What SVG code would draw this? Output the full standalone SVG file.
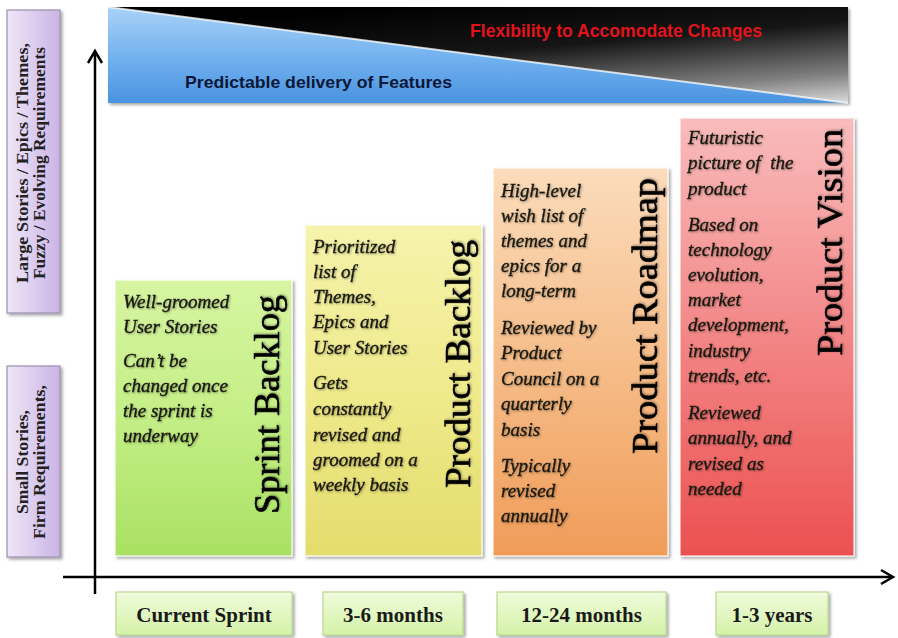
<svg xmlns="http://www.w3.org/2000/svg" width="898" height="638" viewBox="0 0 898 638">
  <defs>
    <linearGradient id="gBlue" x1="0" y1="0" x2="0" y2="1">
      <stop offset="0" stop-color="#a9d2f6"/>
      <stop offset="0.55" stop-color="#70b0ee"/>
      <stop offset="1" stop-color="#4a93e0"/>
    </linearGradient>
    <linearGradient id="gDark" x1="0.35" y1="0" x2="1" y2="1">
      <stop offset="0" stop-color="#000000"/>
      <stop offset="0.4" stop-color="#151515"/>
      <stop offset="0.78" stop-color="#808080"/>
      <stop offset="1" stop-color="#dcdcdc"/>
    </linearGradient>
    <linearGradient id="gGreen" x1="0" y1="0" x2="0" y2="1">
      <stop offset="0" stop-color="#d7f5a2"/>
      <stop offset="0.5" stop-color="#c4ee86"/>
      <stop offset="1" stop-color="#a9e163"/>
    </linearGradient>
    <linearGradient id="gYellow" x1="0" y1="0" x2="0" y2="1">
      <stop offset="0" stop-color="#f6f3ac"/>
      <stop offset="0.5" stop-color="#efea8c"/>
      <stop offset="1" stop-color="#e4dc6c"/>
    </linearGradient>
    <linearGradient id="gOrange" x1="0" y1="0" x2="0" y2="1">
      <stop offset="0" stop-color="#fbdcbc"/>
      <stop offset="0.5" stop-color="#f6bd8a"/>
      <stop offset="1" stop-color="#f09c58"/>
    </linearGradient>
    <linearGradient id="gRed" x1="0" y1="0" x2="0" y2="1">
      <stop offset="0" stop-color="#f9bcbc"/>
      <stop offset="0.5" stop-color="#f38686"/>
      <stop offset="1" stop-color="#ec5050"/>
    </linearGradient>
    <linearGradient id="gPurple" x1="0" y1="0" x2="1" y2="0">
      <stop offset="0" stop-color="#eee6f7"/>
      <stop offset="1" stop-color="#cbb4e6"/>
    </linearGradient>
    <linearGradient id="gTag" x1="0" y1="0" x2="0" y2="1">
      <stop offset="0" stop-color="#f0fbdc"/>
      <stop offset="1" stop-color="#d4f2a8"/>
    </linearGradient>
    <filter id="shadow" x="-10%" y="-10%" width="125%" height="125%">
      <feDropShadow dx="2" dy="2" stdDeviation="1.6" flood-color="#000" flood-opacity="0.35"/>
    </filter>
    <filter id="tshadow" x="-10%" y="-10%" width="125%" height="125%">
      <feDropShadow dx="1" dy="1" stdDeviation="0.8" flood-color="#000" flood-opacity="0.35"/>
    </filter>
  </defs>
  <style>
    .card { stroke: #ffffff; stroke-opacity: 0.7; stroke-width: 1.5; filter: url(#shadow); }
    .body { font-family: "Liberation Serif", "DejaVu Serif", serif; font-style: italic; font-size: 19px; fill: #1a1a10; stroke: #1a1a10; stroke-width: 0.35; filter: url(#tshadow); }
    .title { font-family: "Liberation Serif", "DejaVu Serif", serif; font-size: 35px; fill: #000; stroke: #000; stroke-width: 0.6; filter: url(#tshadow); }
    .side { font-family: "Liberation Serif", "DejaVu Serif", serif; font-weight: bold; font-size: 16px; fill: #222; text-anchor: middle; }
    .sidebox { fill: url(#gPurple); stroke: #9c8fae; stroke-width: 1.2; filter: url(#shadow); }
    .tag { fill: url(#gTag); stroke: #b9d88f; stroke-width: 1.2; filter: url(#shadow); }
    .tagtext { font-family: "Liberation Serif", "DejaVu Serif", serif; font-weight: bold; font-size: 21px; fill: #1a1a1a; text-anchor: middle; }
    .axis { stroke: #000; stroke-width: 2.5; fill: none; }
  </style>

  <!-- top banner: predictability vs flexibility wedge -->
  <g id="banner">
    <rect x="108" y="7" width="740" height="96" fill="#9a9a9a" filter="url(#shadow)"/>
    <polygon points="108,7 848,7 848,103" fill="url(#gDark)"/>
    <polygon points="108,7 848,103 108,103" fill="url(#gBlue)"/>
    <line x1="108" y1="7" x2="848" y2="103" stroke="#ffffff" stroke-opacity="0.75" stroke-width="2"/>
    <text x="470" y="37" textLength="292" lengthAdjust="spacingAndGlyphs" font-family="'Liberation Sans', Arial, sans-serif" font-weight="bold" font-size="19" fill="#e0141a">Flexibility to Accomodate Changes</text>
    <text x="185" y="88" textLength="267" lengthAdjust="spacingAndGlyphs" font-family="'Liberation Sans', Arial, sans-serif" font-weight="bold" font-size="16.5" fill="#0b1736">Predictable delivery of Features</text>
  </g>

  <!-- axes -->
  <g id="connectors">
    <line class="axis" x1="95" y1="52" x2="95" y2="594"/>
    <polyline class="axis" points="88,63 95,51 102,63"/>
    <line class="axis" x1="63" y1="577" x2="892" y2="577"/>
    <polyline class="axis" points="881,570 893,577 881,584"/>
  </g>

  <!-- vertical axis captions -->
  <g id="label-large">
    <rect class="sidebox" x="7" y="10" width="53" height="303"/>
    <text class="side" transform="translate(28,163) rotate(-90)" textLength="240" lengthAdjust="spacingAndGlyphs">Large Stories / Epics / Themes,</text>
    <text class="side" transform="translate(45,163) rotate(-90)" textLength="232" lengthAdjust="spacingAndGlyphs">Fuzzy / Evolving Requirements</text>
  </g>
  <g id="label-small">
    <rect class="sidebox" x="7" y="366" width="53" height="191"/>
    <text class="side" transform="translate(28,462) rotate(-90)" textLength="104" lengthAdjust="spacingAndGlyphs">Small Stories,</text>
    <text class="side" transform="translate(45,462) rotate(-90)" textLength="154" lengthAdjust="spacingAndGlyphs">Firm Requirements,</text>
  </g>

  <!-- Sprint Backlog -->
  <g id="sprint-backlog">
    <rect class="card" x="115" y="280" width="177" height="276" fill="url(#gGreen)"/>
    <text class="body">
      <tspan x="123" y="308">Well-groomed</tspan>
      <tspan x="123" y="333">User Stories</tspan>
      <tspan x="123" y="367">Can’t be</tspan>
      <tspan x="123" y="392">changed once</tspan>
      <tspan x="123" y="417">the sprint is</tspan>
      <tspan x="123" y="442">underway</tspan>
    </text>
    <text class="title" transform="translate(279,514) rotate(-90)" textLength="219" lengthAdjust="spacingAndGlyphs">Sprint Backlog</text>
  </g>

  <!-- Product Backlog -->
  <g id="product-backlog">
    <rect class="card" x="305" y="225" width="177" height="331" fill="url(#gYellow)"/>
    <text class="body">
      <tspan x="313" y="253">Prioritized</tspan>
      <tspan x="313" y="278">list of</tspan>
      <tspan x="313" y="303">Themes,</tspan>
      <tspan x="313" y="328">Epics and</tspan>
      <tspan x="313" y="354">User Stories</tspan>
      <tspan x="313" y="389">Gets</tspan>
      <tspan x="313" y="415">constantly</tspan>
      <tspan x="313" y="441">revised and</tspan>
      <tspan x="313" y="466">groomed on a</tspan>
      <tspan x="313" y="491">weekly basis</tspan>
    </text>
    <text class="title" transform="translate(470,488) rotate(-90)" textLength="248" lengthAdjust="spacingAndGlyphs">Product Backlog</text>
  </g>

  <!-- Product Roadmap -->
  <g id="product-roadmap">
    <rect class="card" x="493" y="168" width="175" height="388" fill="url(#gOrange)"/>
    <text class="body">
      <tspan x="501" y="197">High-level</tspan>
      <tspan x="501" y="222">wish list of</tspan>
      <tspan x="501" y="247">themes and</tspan>
      <tspan x="501" y="272">epics for a</tspan>
      <tspan x="501" y="297">long-term</tspan>
      <tspan x="501" y="334">Reviewed by</tspan>
      <tspan x="501" y="359">Product</tspan>
      <tspan x="501" y="385">Council on a</tspan>
      <tspan x="501" y="410">quarterly</tspan>
      <tspan x="501" y="436">basis</tspan>
      <tspan x="501" y="472">Typically</tspan>
      <tspan x="501" y="497">revised</tspan>
      <tspan x="501" y="522">annually</tspan>
    </text>
    <text class="title" transform="translate(657,454) rotate(-90)" textLength="276" lengthAdjust="spacingAndGlyphs">Product Roadmap</text>
  </g>

  <!-- Product Vision -->
  <g id="product-vision">
    <rect class="card" x="680" y="118" width="174" height="438" fill="url(#gRed)"/>
    <text class="body">
      <tspan x="688" y="144">Futuristic</tspan>
      <tspan x="688" y="169" xml:space="preserve">picture of  the</tspan>
      <tspan x="688" y="195">product</tspan>
      <tspan x="688" y="231">Based on</tspan>
      <tspan x="688" y="256">technology</tspan>
      <tspan x="688" y="281">evolution,</tspan>
      <tspan x="688" y="306">market</tspan>
      <tspan x="688" y="331">development,</tspan>
      <tspan x="688" y="357">industry</tspan>
      <tspan x="688" y="382">trends, etc.</tspan>
      <tspan x="688" y="419">Reviewed</tspan>
      <tspan x="688" y="444">annually, and</tspan>
      <tspan x="688" y="470">revised as</tspan>
      <tspan x="688" y="495">needed</tspan>
    </text>
    <text class="title" transform="translate(842,356) rotate(-90)" textLength="227" lengthAdjust="spacingAndGlyphs">Product Vision</text>
  </g>

  <!-- time horizon tags -->
  <g id="tag-current-sprint">
    <rect class="tag" x="116" y="592" width="176" height="43"/>
    <text class="tagtext" x="204" y="622">Current Sprint</text>
  </g>
  <g id="tag-3-6-months">
    <rect class="tag" x="323" y="592" width="140" height="43"/>
    <text class="tagtext" x="393" y="622">3-6 months</text>
  </g>
  <g id="tag-12-24-months">
    <rect class="tag" x="497" y="592" width="169" height="43"/>
    <text class="tagtext" x="581.5" y="622">12-24 months</text>
  </g>
  <g id="tag-1-3-years">
    <rect class="tag" x="716" y="592" width="112" height="43"/>
    <text class="tagtext" x="772" y="622">1-3 years</text>
  </g>
</svg>
